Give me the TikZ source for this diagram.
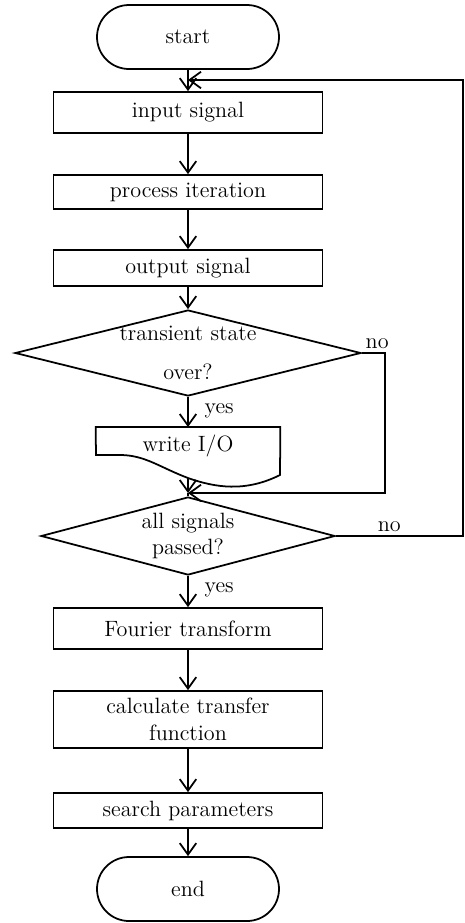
\documentclass[tikz,border=0pt]{standalone}
\usetikzlibrary{shapes.geometric,arrows.meta}
\newcommand\chartfont{\fontsize{12.6}{15.2}\selectfont}
\tikzset{
  procbox/.style={draw, line width=1pt, minimum width=5.38cm, align=center, font=\chartfont},
  termbox/.style={draw, line width=1pt, rounded corners=0.64cm, minimum width=3.64cm, minimum height=1.28cm, font=\chartfont},
  decbox/.style={draw, line width=1pt, diamond, inner sep=0pt},
  dectext/.style={align=center, font=\chartfont},
  flow/.style={line width=1pt, -{Straight Barb[length=2.3mm,width=3.3mm]}},
  lbl/.style={font=\chartfont, inner sep=2pt}
}

\begin{document}
\begin{tikzpicture}
\useasboundingbox (0,0) rectangle (9.3,-18.46);

% terminals and boxes
\node[termbox] (start) at (3.76,-0.74) {start};
\node[procbox, minimum height=0.82cm] (input) at (3.76,-2.25) {input signal};
\node[procbox, minimum height=0.68cm] (proc) at (3.76,-3.84) {process iteration};
\node[procbox, minimum height=0.72cm] (output) at (3.76,-5.36) {output signal};

% decisions
\node[decbox, minimum width=6.92cm, minimum height=1.72cm,
  label={[dectext]center:transient state\\[7pt] over?}] (trans) at (3.76,-7.06) {};
\node[decbox, minimum width=5.88cm, minimum height=1.56cm,
  label={[dectext]center:all signals\\ passed?}] (allsig) at (3.76,-10.72) {};

% write I/O
\node[anchor=north, minimum width=3.68cm, minimum height=0.76cm, font=\chartfont] (wio) at (3.76,-8.54) {write I/O};
\draw[line width=1pt] (wio.north west) -- (wio.north east) -- (5.6,-9.5)
  .. controls (4.9,-9.85) and (4.3,-9.75) .. (3.76,-9.56)
  .. controls (3.2,-9.35) and (2.9,-9.1) .. (2.4,-9.1) -- (1.92,-9.1) -- cycle;
\coordinate (wiobot) at (3.76,-9.56);
\coordinate (join) at (3.76,-9.86);

\node[procbox, minimum height=0.82cm] (fourier) at (3.76,-12.57) {Fourier transform};
\node[procbox, minimum height=1.14cm] (calc) at (3.76,-14.39) {calculate transfer\\ function};
\node[procbox, minimum height=0.70cm] (search) at (3.76,-16.21) {search parameters};
\node[termbox] (end) at (3.76,-17.78) {end};

% connectors
\coordinate (back) at (3.76,-1.6);
\draw[flow] (start) -- (input);
\draw[flow] (input) -- (proc);
\draw[flow] (proc) -- (output);
\draw[flow] (output) -- (trans);
\draw[flow] (trans) -- node[lbl, right, xshift=7pt, pos=0.45] {yes} (wio);
\draw[flow] (trans.east) -- (7.7,-7.06) |- (join);
\node[lbl, above right] (no1) at (trans.east) {no};
\draw[flow] (wiobot) -- (join);
\draw[line width=1pt] (join) -- (allsig.north);
\draw[flow] (allsig.east) -- node[lbl, above, pos=0.42] {no} (9.26,-10.72) |- (back);
\draw[flow] (allsig) -- node[lbl, right, xshift=7pt, pos=0.45] {yes} (fourier);
\draw[flow] (fourier) -- (calc);
\draw[flow] (calc) -- (search);
\draw[flow] (search) -- (end);

\end{tikzpicture}
\end{document}
